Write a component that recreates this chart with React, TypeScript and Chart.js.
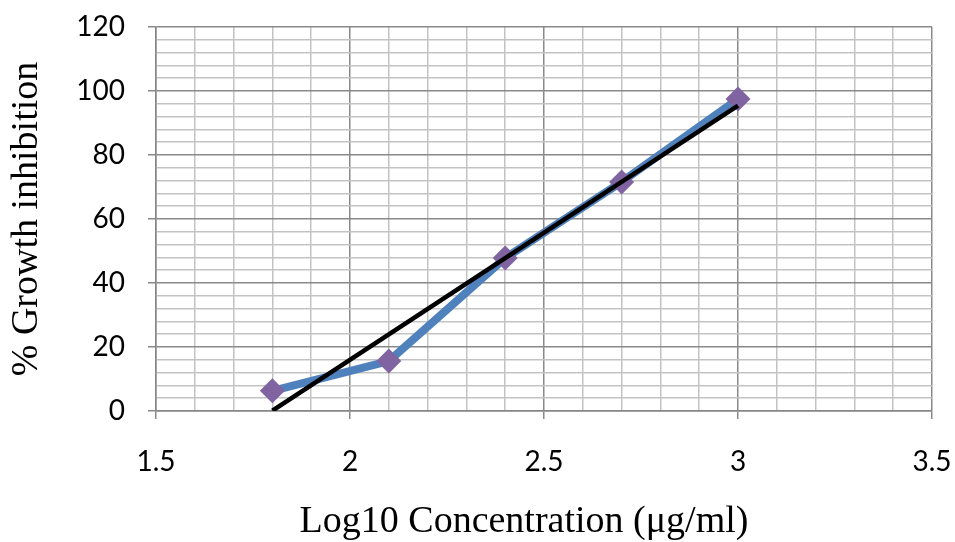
import React, { useEffect, useRef } from "react";
import { Chart, registerables } from "chart.js";

Chart.register(...registerables);

// measured points (log10 conc vs % inhibition)
const logConc = [1.8, 2.1, 2.4, 2.7, 3.0];
const inhibition = [6.3, 15.6, 47.8, 71.6, 97.5];

// linear trendline end points as drawn
const trendX = [1.8, 3.0];
const trendY = [0.1, 95.4];

const xTitle = "Log10 Concentration (μg/ml)";
const yTitle = "% Growth inhibition";

const tickFont = { family: "Lato", size: 28 };
const titleFont = { family: "Liberation Serif", size: 38 };

const isMultiple = (v: number, step: number) =>
  Math.abs(v / step - Math.round(v / step)) < 1e-6;

// no label overhang: the plot box is set by layout padding alone
const noOverhang = (s: any) => {
  s.paddingTop = 0;
  s.paddingBottom = 0;
  s.paddingLeft = 0;
  s.paddingRight = 0;
};

const xTitlePlugin = {
  id: "xTitle",
  afterDraw(chart: Chart) {
    const ctx = chart.ctx;
    ctx.save();
    ctx.font = `${titleFont.size}px "${titleFont.family}"`;
    ctx.fillStyle = "#000";
    ctx.textAlign = "center";
    ctx.textBaseline = "middle";
    ctx.fillText(xTitle, 524, 522);
    ctx.restore();
  },
};

const App = () => {
  const canvasRef = useRef<HTMLCanvasElement>(null);

  useEffect(() => {
    if (!canvasRef.current) return;
    const chart = new Chart(canvasRef.current, {
      type: "scatter",
      data: {
        datasets: [
          {
            label: "Trend",
            data: trendX.map((x, i) => ({ x, y: trendY[i] })),
            showLine: true,
            borderColor: "#000000",
            borderWidth: 4.5,
            pointRadius: 0,
            order: 0,
          },
          {
            label: "Inhibition",
            data: logConc.map((x, i) => ({ x, y: inhibition[i] })),
            showLine: true,
            borderColor: "#4F81BD",
            borderWidth: 8,
            pointStyle: "rectRot",
            pointRadius: 12.5,
            pointBackgroundColor: "#8064A2",
            pointBorderColor: "#8064A2",
            pointBorderWidth: 0,
            order: 1,
          },
        ],
      },
      options: {
        animation: false,
        responsive: false,
        layout: { padding: { top: 27, right: 23, left: 0, bottom: 0 } },
        plugins: {
          legend: { display: false },
          tooltip: { enabled: false },
        },
        scales: {
          x: {
            type: "linear",
            min: 1.5,
            max: 3.5,
            afterFit: (s: any) => {
              s.height = 131;
              noOverhang(s);
            },
            ticks: {
              stepSize: 0.1,
              autoSkip: false,
              maxRotation: 0,
              padding: 26,
              color: "#000",
              font: tickFont,
              callback: (v: any) => (isMultiple(Number(v), 0.5) ? String(Math.round(Number(v) * 10) / 10) : ""),
            },
            grid: {
              color: (c: any) => (isMultiple(c.tick.value, 0.5) ? "#8a8a8a" : "#c3c3c3"),
              lineWidth: 1.5,
              tickLength: 8,
              tickColor: (c: any) => (isMultiple(c.tick.value, 0.5) ? "#8a8a8a" : "rgba(0,0,0,0)"),
            },
            border: { color: "#868686", width: 1.5 },
          },
          y: {
            type: "linear",
            min: 0,
            max: 120,
            afterFit: (s: any) => {
              s.width = 156;
              noOverhang(s);
            },
            ticks: {
              stepSize: 4,
              autoSkip: false,
              padding: 23,
              color: "#000",
              font: tickFont,
              callback: (v: any) => (isMultiple(Number(v), 20) ? String(v) : ""),
            },
            grid: {
              color: (c: any) => (isMultiple(c.tick.value, 20) ? "#8a8a8a" : "#c3c3c3"),
              lineWidth: 1.5,
              tickLength: 8,
              tickColor: (c: any) => (isMultiple(c.tick.value, 20) ? "#8a8a8a" : "rgba(0,0,0,0)"),
            },
            border: { color: "#868686", width: 1.5 },
            title: {
              display: true,
              text: yTitle,
              color: "#000",
              font: titleFont,
              padding: { top: 4, bottom: 0 },
            },
          },
        },
      },
      plugins: [xTitlePlugin],
    });
    return () => {
      chart.destroy();
    };
  }, []);

  return (
    <div style={{ position: "absolute", left: 0, top: 0, width: 955, height: 542, background: "#fff" }}>
      <canvas ref={canvasRef} width={955} height={542} />
    </div>
  );
};

export default App;
